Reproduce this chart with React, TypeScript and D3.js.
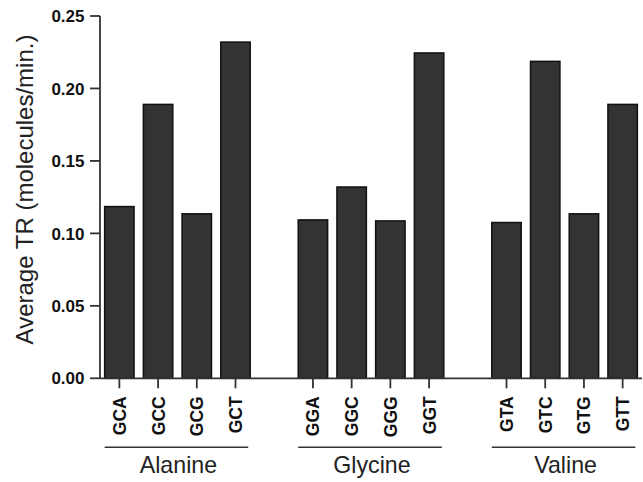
import React from "react";
import * as d3 from "d3";

const groups = ["Alanine", "Glycine", "Valine"];
const codons = [
  ["GCA", "GCC", "GCG", "GCT"],
  ["GGA", "GGC", "GGG", "GGT"],
  ["GTA", "GTC", "GTG", "GTT"],
];
const values = [
  [0.1185, 0.189, 0.1135, 0.232],
  [0.1093, 0.132, 0.1086, 0.2245],
  [0.1075, 0.2187, 0.1135, 0.189],
];
const yTicks = [0, 0.05, 0.1, 0.15, 0.2, 0.25];
const yTitle = "Average TR (molecules/min.)";

const W = 643;
const H = 482;
const FONT = "Arial, 'Liberation Sans', sans-serif";

export default function App() {
  // slots: 4 bars, gap, 4 bars, gap, 4 bars
  const slots: string[] = [];
  codons.forEach((g, gi) => {
    g.forEach((c) => slots.push(c));
    if (gi < codons.length - 1) slots.push("gap" + gi);
  });
  const x = d3
    .scaleBand<string>()
    .domain(slots)
    .range([100, 642])
    .paddingInner(0.24)
    .paddingOuter(0.12);
  const y = d3.scaleLinear().domain([0, 0.25]).range([378.3, 16]);
  const bw = x.bandwidth();
  const axisColor = "#333";

  return (
    <svg
      width={W}
      height={H}
      style={{ position: "absolute", left: 0, top: 0, background: "#fff" }}
      fontFamily={FONT}
    >
      {/* bars */}
      {codons.map((g, gi) =>
        g.map((c, ci) => (
          <rect
            key={c}
            x={x(c)!}
            y={y(values[gi][ci])}
            width={bw}
            height={y(0) - y(values[gi][ci])}
            fill="#333333"
            stroke="#111"
            strokeWidth={1.5}
          />
        ))
      )}
      {/* y axis */}
      <line x1={100} x2={100} y1={y(0.25)} y2={y(0)} stroke={axisColor} strokeWidth={1.8} />
      {yTicks.map((t) => (
        <g key={t}>
          <line x1={90} x2={100} y1={y(t)} y2={y(t)} stroke={axisColor} strokeWidth={1.8} />
          <text
            x={84.5}
            y={y(t)}
            dy="0.36em"
            textAnchor="end"
            fontSize={17}
            fontWeight="bold"
            fill="#111"
          >
            {t.toFixed(2)}
          </text>
        </g>
      ))}
      {/* x axis */}
      <line x1={100} x2={642} y1={y(0)} y2={y(0)} stroke={axisColor} strokeWidth={1.8} />
      {codons.map((g) =>
        g.map((c) => {
          const cx = x(c)! + bw / 2;
          return (
            <g key={"t" + c}>
              <line x1={cx} x2={cx} y1={y(0)} y2={y(0) + 10} stroke={axisColor} strokeWidth={1.8} />
              <text
                transform={`translate(${cx + 6.5},${y(0) + 18}) rotate(-90)`}
                textAnchor="end"
                fontSize={17.5}
                fontWeight="bold"
                fill="#111"
              >
                {c}
              </text>
            </g>
          );
        })
      )}
      {/* group lines and labels */}
      {groups.map((gName, gi) => {
        const first = codons[gi][0];
        const last = codons[gi][codons[gi].length - 1];
        const x0 = x(first)!;
        const x1 = x(last)! + bw;
        return (
          <g key={gName}>
            <line x1={x0} x2={x1 - 2} y1={447.3} y2={447.3} stroke={axisColor} strokeWidth={1.6} />
            <text
              x={(x0 + x1) / 2 + 1}
              y={473.3}
              textAnchor="middle"
              fontSize={23.2}
              fill="#222"
            >
              {gName}
            </text>
          </g>
        );
      })}
      {/* y title */}
      <text
        transform={`translate(32.5,189.5) rotate(-90)`}
        textAnchor="middle"
        fontSize={24}
        fill="#222"
      >
        {yTitle}
      </text>
    </svg>
  );
}
